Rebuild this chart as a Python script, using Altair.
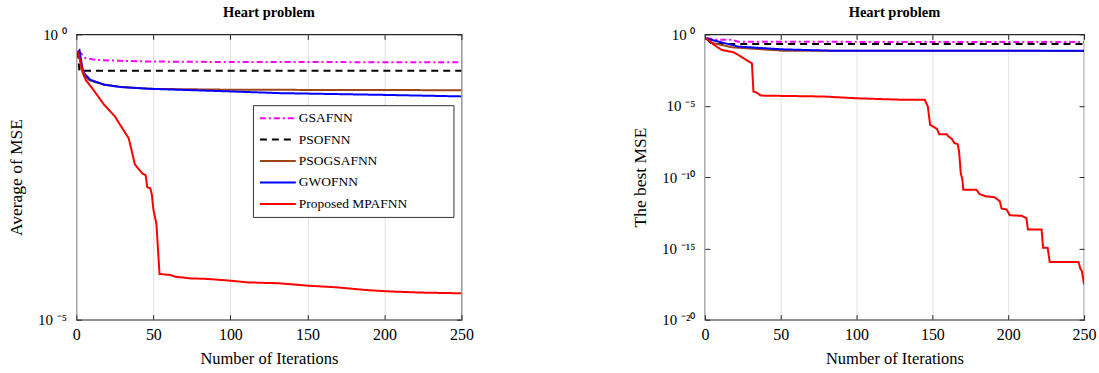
import altair as alt
import pandas as pd

series_names = ["GSAFNN", "PSOFNN", "PSOGSAFNN", "GWOFNN", "Proposed MPAFNN"]
series_colors = ["#FF00FF", "#000000", "#A0441A", "#0000FF", "#FF0000"]
series_dashes = [[6, 3, 2, 3], [7, 5], [1, 0], [1, 0], [1, 0]]

# ---- Left panel: Average of MSE ----
avg_gsa_x = [1, 3, 6, 13, 29, 48, 100, 250]
avg_gsa_y = [0.50, 0.466, 0.381, 0.357, 0.343, 0.334, 0.327, 0.325]
avg_pso_x = [1, 2, 250]
avg_pso_y = [0.50, 0.23, 0.23]
avg_psogsa_x = [1, 2, 3, 5, 9, 18, 29, 48, 100, 250]
avg_psogsa_y = [0.50, 0.52, 0.26, 0.183, 0.155, 0.132, 0.12, 0.111, 0.107, 0.105]
avg_gwo_x = [1, 2, 4, 5, 9, 18, 29, 48, 100, 132, 200, 250]
avg_gwo_y = [0.48, 0.52, 0.255, 0.209, 0.160, 0.131, 0.119, 0.111, 0.100, 0.0933, 0.0869, 0.0818]
avg_mpa_x = [1, 4, 6, 11, 18, 25, 29, 34, 36, 38, 43, 45, 46, 48, 49, 50, 52, 54,
             61, 64, 74, 85, 100, 111, 132, 150, 169, 187, 202, 223, 250]
avg_mpa_y = [0.50, 0.239, 0.160, 0.107, 0.0586, 0.0366, 0.0245, 0.0151, 0.00897, 0.00526,
             0.00361, 0.00342, 0.00211, 0.00200, 0.00157, 8.61e-4, 4.72e-4, 6.32e-5,
             6.08e-5, 5.68e-5, 5.30e-5, 5.18e-5, 4.83e-5, 4.51e-5, 4.34e-5, 3.95e-5,
             3.69e-5, 3.33e-5, 3.14e-5, 2.99e-5, 2.90e-5]

# ---- Right panel: The best MSE ----
best_gsa_x = [1, 9, 18, 22, 250]
best_gsa_y = [0.53, 0.41, 0.41, 0.30, 0.29]
best_pso_x = [1, 3, 5, 250]
best_pso_y = [0.50, 0.30, 0.21, 0.21]
best_psogsa_x = [1, 5, 18, 51, 250]
best_psogsa_y = [0.53, 0.25, 0.123, 0.072, 0.069]
best_gwo_x = [1, 5, 22, 51, 82, 250]
best_gwo_y = [0.53, 0.40, 0.138, 0.089, 0.072, 0.071]
best_mpa_x = [1, 6, 11, 19, 22, 29, 31, 32, 34, 37, 78, 100, 130, 145, 147, 148.5,
              151, 153, 154.5, 159.5, 160.5, 162.7, 164.5, 166.7, 167.6, 168.7, 169.8,
              170.4, 179, 181, 185, 191, 194.5, 195.6, 199, 201, 209, 212, 213, 222,
              223, 226, 227.4, 246.4, 247.5, 248.6, 250]
best_mpa_y = [0.525, 0.182, 0.0813, 0.055, 0.0363, 0.0123, 0.00933, 9.8e-5, 8.3e-5,
              5.1e-5, 4.4e-5, 3.3e-5, 2.6e-5, 2.6e-5, 8.7e-6, 4.6e-7, 3.2e-7, 2.4e-7,
              1.0e-7, 1.0e-7, 7.1e-8, 4.9e-8, 2.4e-8, 2.0e-8, 6.3e-9, 1.9e-10, 6.6e-11,
              1.3e-11, 1.3e-11, 6.5e-12, 4.5e-12, 3.8e-12, 2.0e-12, 6.2e-13, 5.2e-13,
              2.1e-13, 1.9e-13, 1.3e-13, 2.1e-14, 2.1e-14, 1.1e-15, 1.1e-15, 1.1e-16,
              1.1e-16, 3.9e-17, 2.5e-17, 3.0e-18]

x_ticks = [0, 50, 100, 150, 200, 250]
left_y_ticks = [1, 1e-5]
right_y_ticks = [1, 1e-5, 1e-10, 1e-15, 1e-20]

FONT = "Liberation Serif"


def build_df(pairs):
    rows = []
    for name, xs, ys in pairs:
        for xv, yv in zip(xs, ys):
            rows.append({"series": name, "iter": xv, "mse": yv})
    return pd.DataFrame(rows)


df_avg = build_df([
    ("GSAFNN", avg_gsa_x, avg_gsa_y),
    ("PSOFNN", avg_pso_x, avg_pso_y),
    ("PSOGSAFNN", avg_psogsa_x, avg_psogsa_y),
    ("GWOFNN", avg_gwo_x, avg_gwo_y),
    ("Proposed MPAFNN", avg_mpa_x, avg_mpa_y),
])
df_best = build_df([
    ("GSAFNN", best_gsa_x, best_gsa_y),
    ("PSOFNN", best_pso_x, best_pso_y),
    ("PSOGSAFNN", best_psogsa_x, best_psogsa_y),
    ("GWOFNN", best_gwo_x, best_gwo_y),
    ("Proposed MPAFNN", best_mpa_x, best_mpa_y),
])

sup_expr = ("datum.value > 0.5 ? '10 \u2070' : datum.value > 1e-7 ? '10 \u207b\u2075' : "
            "datum.value > 1e-12 ? '10 \u207b\u00b9\u2070' : datum.value > 1e-17 ? "
            "'10 \u207b\u00b9\u2075' : '10 \u207b\u00b2\u2070'")

# invisible (non-whitespace) filler that widens the legend box like the original
pad = "\u2800" * 4


def panel(df, ydomain, yticks, ytitle, lx, ly, width):
    leg = alt.Legend(
        orient="none", legendX=lx, legendY=ly, title=None,
        symbolType="M-1,0H5", symbolSize=144, symbolStrokeWidth=2,
        labelFont=FONT, labelFontSize=13.5, labelColor="#000", labelLimit=400,
        strokeColor="#333", fillColor="#ffffff", padding=6, rowPadding=7.5,
        labelOffset=26, labelExpr="datum.label + '" + pad + "'",
    )
    xs = alt.Scale(domain=[0, 250], nice=False)
    ys = alt.Scale(type="log", domain=ydomain, nice=False)
    lines = alt.Chart(df).mark_line(strokeWidth=2, clip=True).encode(
        x=alt.X("iter:Q", scale=xs, axis=alt.Axis(
            values=x_ticks, title="Number of Iterations", grid=True,
            gridColor="#e0e0e0", domain=False, offset=-5, tickSize=5,
            tickColor="#262626", labelPadding=7, titlePadding=8,
            labelFlush=False, labelOverlap=False, labelFontSize=16,
            titleFontSize=16.5)),
        y=alt.Y("mse:Q", scale=ys, axis=alt.Axis(
            values=yticks, labelExpr=sup_expr, title=ytitle, grid=False,
            domain=False, offset=-5, tickSize=5, tickColor="#262626",
            labelPadding=10, titlePadding=12, labelFlush=False,
            labelOverlap=False, labelFontSize=15, titleFontSize=17.5)),
        color=alt.Color("series:N", scale=alt.Scale(domain=series_names, range=series_colors), legend=leg),
        strokeDash=alt.StrokeDash("series:N", scale=alt.Scale(domain=series_names, range=series_dashes), legend=leg),
    )
    frame = alt.Chart(df).mark_line(strokeOpacity=0).encode(
        x=alt.X("iter:Q", scale=xs, axis=alt.Axis(
            orient="top", values=x_ticks, labels=False, title=None, grid=False,
            domain=False, offset=-5, tickSize=5, tickColor="#262626")),
        y=alt.Y("mse:Q", scale=ys, axis=alt.Axis(
            orient="right", values=yticks, labels=False, title=None, grid=False,
            domain=False, offset=-5, tickSize=5, tickColor="#262626")),
        detail="series:N",
    )
    return alt.layer(lines, frame).resolve_axis(x="independent", y="independent").properties(
        width=width, height=286,
        title=alt.Title("Heart problem", font=FONT, fontSize=14.5, fontWeight="bold",
                        color="#000", offset=7, anchor="middle"),
    )


left = panel(df_avg, [1e-5, 1], left_y_ticks, "Average of MSE", 177, 71, 386)
right = panel(df_best, [1e-20, 1], right_y_ticks, "The best MSE", 20, 164, 380)

chart = alt.hconcat(left, right, spacing=156).properties(
    padding={"left": 6.5, "top": 3, "right": 2, "bottom": 3}
).configure_view(stroke="#262626", strokeWidth=1.2).configure_axis(
    labelFont=FONT, titleFont=FONT,
    titleFontWeight="normal", labelColor="#000", titleColor="#000",
).configure_legend(labelFont=FONT)

chart.save("out.html", embed_options={"renderer": "svg", "actions": False})
